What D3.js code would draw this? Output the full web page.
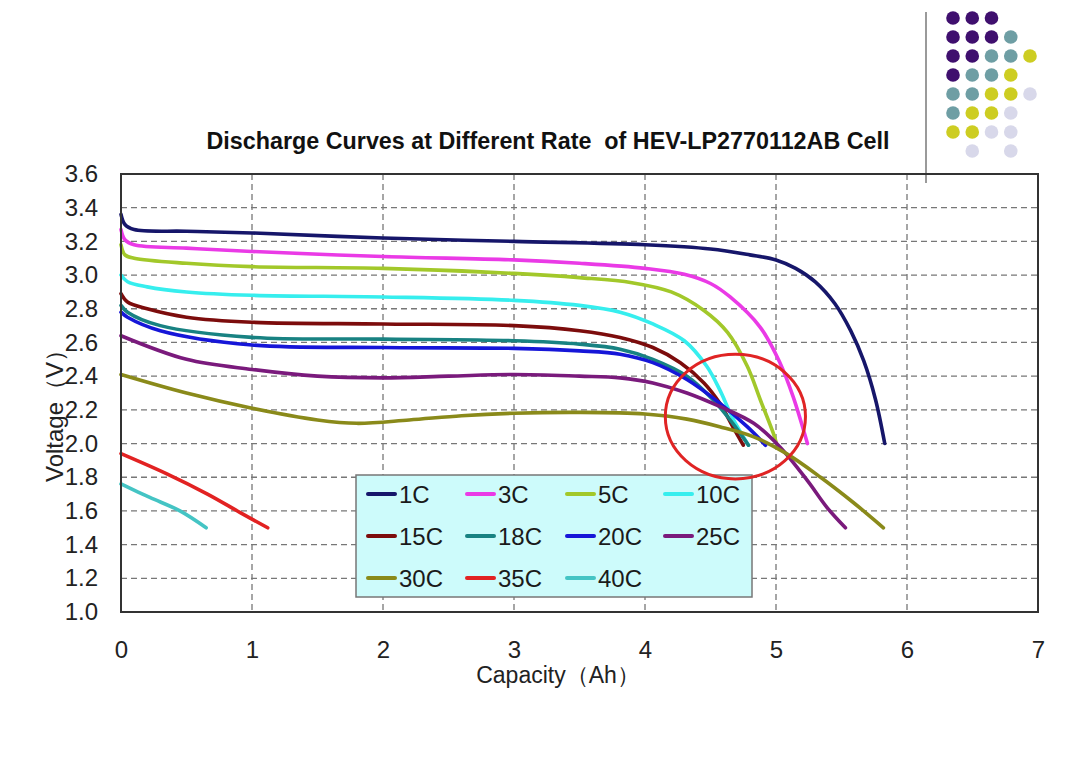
<!DOCTYPE html>
<html>
<head>
<meta charset="utf-8">
<script src="https://cdn.jsdelivr.net/npm/d3@7/dist/d3.min.js"></script>
<style>
  html, body { margin: 0; padding: 0; background: #fff; }
  svg { display: block; }
</style>
</head>
<body>
<svg id="chart" width="1080" height="764"></svg>
<script>
// ---------------- DATA ----------------
const title = "Discharge Curves at Different Rate  of HEV-LP2770112AB Cell";
const xLabel = "Capacity（Ah）";
const yLabel = "Voltage（V）";
const xTicks = [0, 1, 2, 3, 4, 5, 6, 7];
const yTicks = [1.0, 1.2, 1.4, 1.6, 1.8, 2.0, 2.2, 2.4, 2.6, 2.8, 3.0, 3.2, 3.4, 3.6];
const seriesNames = ["1C", "3C", "5C", "10C", "15C", "18C", "20C", "25C", "30C", "35C", "40C"];
const seriesColors = ["#16166a", "#ea3ae6", "#a2c82a", "#36eeee", "#7c0c0c", "#188282",
                      "#1616d8", "#7a1a7c", "#8a8a1a", "#e22222", "#44c4c4"];

// [capacity Ah, voltage V]
const c1  = [[0,3.36],[0.03,3.30],[0.1,3.27],[0.5,3.26],[1,3.25],[2,3.22],[3,3.20],[4,3.18],[4.5,3.155],[4.8,3.12],[5,3.09],[5.15,3.04],[5.3,2.96],[5.45,2.83],[5.57,2.67],[5.67,2.49],[5.76,2.26],[5.83,2.0]];
const c3  = [[0,3.27],[0.03,3.21],[0.1,3.18],[0.5,3.16],[1,3.14],[2,3.11],[3,3.09],[3.5,3.07],[4.0,3.04],[4.3,3.005],[4.5,2.95],[4.65,2.87],[4.88,2.69],[5.03,2.48],[5.13,2.28],[5.24,2.0]];
const c5  = [[0,3.18],[0.03,3.12],[0.1,3.10],[0.5,3.07],[1,3.05],[2,3.04],[3,3.01],[3.5,2.985],[3.9,2.955],[4.2,2.90],[4.45,2.79],[4.63,2.66],[4.78,2.46],[4.88,2.26],[4.98,2.06],[5.0,2.01]];
const c10 = [[0,3.0],[0.05,2.96],[0.2,2.93],[0.5,2.90],[1,2.88],[2,2.87],[3,2.85],[3.5,2.82],[3.81,2.78],[4.06,2.71],[4.3,2.61],[4.47,2.46],[4.57,2.32],[4.67,2.15],[4.79,1.99]];
const c15 = [[0,2.89],[0.05,2.84],[0.2,2.80],[0.5,2.75],[1,2.72],[2,2.71],[3,2.70],[3.5,2.67],[3.81,2.63],[4.06,2.57],[4.27,2.48],[4.45,2.36],[4.57,2.24],[4.67,2.10],[4.75,1.99]];
const c18 = [[0,2.82],[0.05,2.78],[0.3,2.70],[1,2.63],[2,2.62],[3,2.61],[3.5,2.59],[3.81,2.56],[4.06,2.50],[4.32,2.40],[4.52,2.26],[4.67,2.12],[4.79,1.99]];
const c20 = [[0,2.78],[0.05,2.75],[0.3,2.67],[1,2.585],[2,2.57],[3,2.565],[3.5,2.55],[3.81,2.53],[4.06,2.48],[4.32,2.38],[4.57,2.24],[4.78,2.10],[4.92,1.99]];
const c25 = [[0,2.64],[0.5,2.50],[1,2.44],[1.5,2.40],[2,2.39],[2.5,2.40],[3,2.41],[3.5,2.40],[3.81,2.39],[4.06,2.36],[4.32,2.30],[4.57,2.22],[4.83,2.12],[5.03,1.98],[5.24,1.78],[5.39,1.62],[5.53,1.50]];
const c30 = [[0,2.41],[0.5,2.30],[1,2.21],[1.5,2.14],[1.8,2.12],[2.2,2.14],[2.6,2.165],[3,2.18],[3.5,2.185],[4,2.175],[4.32,2.145],[4.57,2.10],[4.83,2.04],[5.08,1.94],[5.34,1.80],[5.59,1.65],[5.82,1.50]];
const c35 = [[0,1.94],[0.35,1.82],[0.66,1.70],[0.91,1.59],[1.12,1.50]];
const c40 = [[0,1.76],[0.22,1.68],[0.45,1.60],[0.65,1.50]];
const seriesData = [c1, c3, c5, c10, c15, c18, c20, c25, c30, c35, c40];

// highlighted region (data coords): center and radii
const circleCenter = [4.69, 2.16];
const circleRadii = [0.535, 0.37];

// decorative dot pattern rows (P purple, T teal, Y yellow, L lavender, space = none)
const dotRows = ["PPP", "PPPT", "PPTTY", "PTTY", "TTYYL", "TYYL", "YYLL", " L L"];
const dotColors = { P: "#3f0f6e", T: "#6e9ea4", Y: "#cdcd22", L: "#d8d8ea" };

// ---------------- LAYOUT ----------------
const svg = d3.select("#chart");
const L = 121, R = 1038, T = 174, B = 612;
const x = d3.scaleLinear().domain([0, 7]).range([L, R]);
const y = d3.scaleLinear().domain([1.0, 3.6]).range([B, T]);
const FONT = "'Liberation Sans', Arial, sans-serif";

// decoration
svg.append("line").attr("x1", 926).attr("x2", 926).attr("y1", 12).attr("y2", 183)
  .attr("stroke", "#9a9a9a").attr("stroke-width", 2);
const dx = d3.scaleLinear().domain([0, 4]).range([953, 1030]);
const dy = d3.scaleLinear().domain([0, 7]).range([18, 151]);
dotRows.forEach((row, ri) => {
  row.split("").forEach((ch, ci) => {
    if (ch === " ") return;
    svg.append("circle").attr("cx", dx(ci)).attr("cy", dy(ri)).attr("r", 6.8)
      .attr("fill", dotColors[ch]);
  });
});

// title
svg.append("text").attr("x", 548).attr("y", 149).attr("text-anchor", "middle")
  .attr("font-family", FONT).attr("font-weight", "bold").attr("font-size", 23)
  .attr("textLength", 683).attr("lengthAdjust", "spacingAndGlyphs")
  .style("white-space", "pre")
  .attr("fill", "#111").text(title);

// grid
const grid = svg.append("g");
grid.selectAll("line.v").data(xTicks.filter(d => d > 0 && d < 7)).join("line")
  .attr("x1", d => x(d)).attr("x2", d => x(d)).attr("y1", T).attr("y2", B)
  .attr("stroke", "#777").attr("stroke-width", 1.3).attr("stroke-dasharray", "6,4");
grid.selectAll("line.h").data(yTicks.filter(d => d > 1.01 && d < 3.59)).join("line")
  .attr("x1", L).attr("x2", R).attr("y1", d => y(d)).attr("y2", d => y(d))
  .attr("stroke", "#777").attr("stroke-width", 1.3).attr("stroke-dasharray", "6,4");

// axes (labels only)
const xAxis = svg.append("g").attr("transform", `translate(0,${B})`)
  .call(d3.axisBottom(x).tickValues(xTicks).tickFormat(d3.format("d")).tickSize(0).tickPadding(29));
const yAxis = svg.append("g").attr("transform", `translate(${L},0)`)
  .call(d3.axisLeft(y).tickValues(yTicks).tickFormat(d3.format(".1f")).tickSize(0).tickPadding(23));
[xAxis, yAxis].forEach(g => {
  g.select(".domain").remove();
  g.selectAll("text").attr("font-family", FONT).attr("font-size", 24).attr("fill", "#222");
});

// curves
const line = d3.line().x(d => x(d[0])).y(d => y(d[1])).curve(d3.curveCatmullRom.alpha(0.5));
svg.append("g").selectAll("path").data(seriesData).join("path")
  .attr("d", line).attr("fill", "none")
  .attr("stroke", (d, i) => seriesColors[i]).attr("stroke-width", 3.6)
  .attr("stroke-linecap", "round").attr("stroke-linejoin", "round");

// plot frame
svg.append("rect").attr("x", L).attr("y", T).attr("width", R - L).attr("height", B - T)
  .attr("fill", "none").attr("stroke", "#333").attr("stroke-width", 2);

// legend
const lg = svg.append("g");
lg.append("rect").attr("x", 356).attr("y", 475).attr("width", 396).attr("height", 122)
  .attr("fill", "#cdfbfb").attr("stroke", "#777").attr("stroke-width", 1.5);
const colX = [368, 467, 567, 665], rowY = [494, 536, 578];
seriesNames.forEach((name, i) => {
  const cx = colX[i % 4], cy = rowY[Math.floor(i / 4)];
  lg.append("line").attr("x1", cx).attr("x2", cx + 27).attr("y1", cy).attr("y2", cy)
    .attr("stroke", seriesColors[i]).attr("stroke-width", 4).attr("stroke-linecap", "round");
  lg.append("text").attr("x", cx + 31).attr("y", cy).attr("dy", "0.36em")
    .attr("font-family", FONT).attr("font-size", 24).attr("fill", "#1a1a1a").text(name);
});

// red highlight ellipse
svg.append("ellipse").attr("cx", x(circleCenter[0])).attr("cy", y(circleCenter[1]))
  .attr("rx", x(circleRadii[0]) - x(0)).attr("ry", y(0) - y(circleRadii[1]))
  .attr("fill", "none").attr("stroke", "#e02424").attr("stroke-width", 3);

// axis titles
svg.append("text").attr("x", 558).attr("y", 683).attr("text-anchor", "middle")
  .attr("font-family", FONT).attr("font-size", 23).attr("fill", "#222").text(xLabel);
svg.append("text").attr("transform", "translate(63,410) rotate(-90)").attr("text-anchor", "middle")
  .attr("font-family", FONT).attr("font-size", 24).attr("fill", "#222").text(yLabel);
</script>
</body>
</html>
